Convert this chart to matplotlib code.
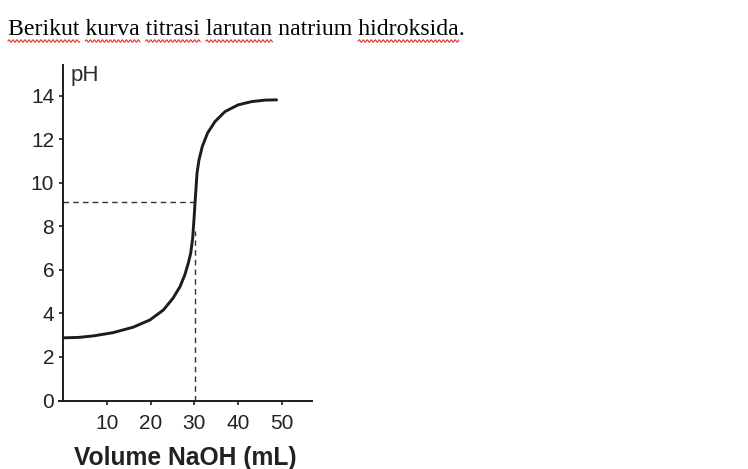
import numpy as np
import matplotlib
matplotlib.use("Agg")
import matplotlib.pyplot as plt
from matplotlib.lines import Line2D

# ---- data ----
volume = [0.0, 3.5, 6.9, 11.4, 16.0, 19.8, 22.9, 25.1, 26.7, 27.8, 28.6, 29.15, 29.6,
          29.9, 30.15, 30.35, 30.6, 31.05, 31.8, 33.0, 34.7, 37.0, 40.0, 43.1, 46.2, 48.8]
ph = [2.88, 2.9, 2.97, 3.12, 3.37, 3.7, 4.16, 4.7, 5.23, 5.77, 6.31, 6.77, 7.45,
      8.3, 9.1, 9.7, 10.45, 11.06, 11.67, 12.29, 12.82, 13.28, 13.59, 13.74, 13.81, 13.82]
equiv_volume = 30.1
equiv_ph = 9.13
vertical_top_ph = 7.8
x_ticks = [10, 20, 30, 40, 50]
y_ticks = [0, 2, 4, 6, 8, 10, 12, 14]
title = "Berikut kurva titrasi larutan natrium hidroksida."
squiggle_words = ["Berikut", "kurva", "titrasi", "larutan", "hidroksida"]

W, H = 748, 469
fig = plt.figure(figsize=(W / 100, H / 100), dpi=100)
fig.patch.set_facecolor("white")

ink = "#1c1c1c"
sans = ["Liberation Sans", "DejaVu Sans"]

ax = fig.add_axes([58.9 / W, (H - 400.5) / H, 253.5 / W, 335 / H])
ax.set_xlim(-1, 57)
ax.set_ylim(0, 15.4)
ax.patch.set_alpha(0)
for s in ["top", "right"]:
    ax.spines[s].set_visible(False)
ax.spines["left"].set_position(("data", 0))
for s in ["left", "bottom"]:
    ax.spines[s].set_color(ink)
    ax.spines[s].set_linewidth(1.4)

ax.plot(volume, ph, color=ink, lw=2.1, solid_capstyle="round",
        solid_joinstyle="round", zorder=3)
ax.plot([0, equiv_volume], [equiv_ph, equiv_ph], color="#333333", lw=1.0,
        dashes=(4, 3), zorder=2)
ax.plot([equiv_volume, equiv_volume], [0, vertical_top_ph], color="#333333", lw=1.0,
        dashes=(4, 3), zorder=2)

ax.set_xticks(x_ticks)
ax.set_yticks(y_ticks)
ax.set_xticklabels([str(v) for v in x_ticks], fontsize=15, family=sans, color="#222222")
ax.set_yticklabels([str(v) for v in y_ticks], fontsize=15, family=sans, color="#222222")
ax.tick_params(axis="both", direction="out", length=3, width=1.2, color=ink)
ax.tick_params(axis="x", pad=6.5)
ax.tick_params(axis="y", pad=3.5)

ax.set_xlabel("Volume NaOH (mL)", fontsize=17.7, fontweight="bold", family=sans,
              color="#222222", labelpad=9.5)
ax.text(1.6, 15.4, "pH", fontsize=16, family=sans, color="#2a2a2a",
        ha="left", va="top")

# ---- title with spell-check squiggles ----
tx, ty = 8 / W, 1 - 35 / H
title_kw = dict(fontsize=17.2, family=["Liberation Serif", "DejaVu Serif"], color="black",
                ha="left", va="baseline")
fig.text(tx, ty, title, **title_kw)
fig.canvas.draw()
renderer = fig.canvas.get_renderer()

def prefix_width(s):
    if not s:
        return 0.0
    t = fig.text(tx, ty, s, **title_kw)
    w = t.get_window_extent(renderer).width
    t.remove()
    return w

start_px = tx * W
pos = 0
for word in title.split(" "):
    idx = title.index(word, pos)
    pos = idx + len(word)
    clean = word.rstrip(".")
    if clean in squiggle_words:
        x0 = start_px + prefix_width(title[:idx])
        x1 = start_px + prefix_width(title[:idx + len(clean)])
        xs = np.arange(x0, x1 + 0.5, 0.5)
        ys = (H - 41) + 1.2 * np.sin((xs - x0) / 4.0 * 2 * np.pi)
        fig.add_artist(Line2D(xs / W, ys / H, transform=fig.transFigure,
                              color="#e8342c", lw=0.8))

fig.savefig("out.png", dpi=100, facecolor="white")
